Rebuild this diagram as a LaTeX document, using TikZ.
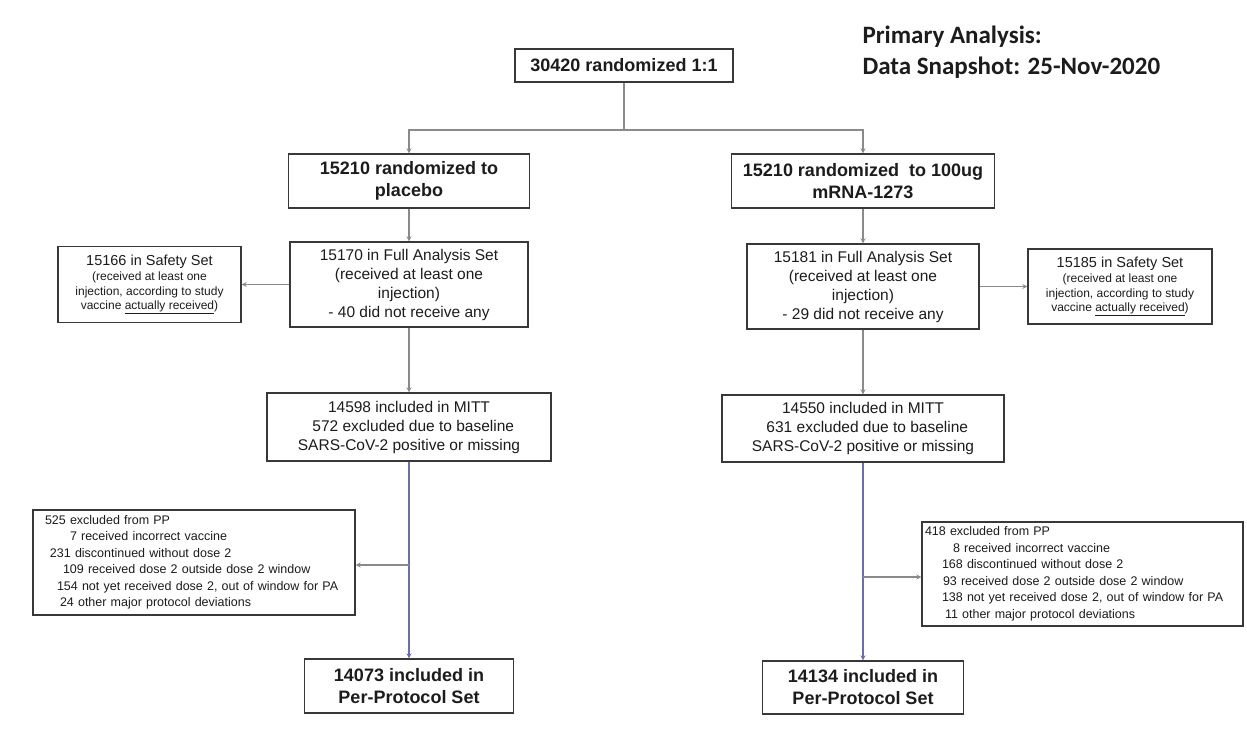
\documentclass[tikz,border=0pt]{standalone}
\usepackage{fontspec}
\setmainfont{Liberation Sans}
\newfontfamily\calfont{Carlito}
\usetikzlibrary{arrows}
\definecolor{boxline}{HTML}{383838}
\definecolor{wiregray}{HTML}{8A8A8A}
\definecolor{bluewire}{HTML}{6C6CB4}
\definecolor{ink}{HTML}{1C1C1C}

\begin{document}
\begin{tikzpicture}[x=1pt,y=-1pt,
    box/.style={draw=boxline,line width=1.3pt,inner sep=0pt,align=center,text=ink},
    bigbox/.style={box,font=\fontsize{18}{22}\selectfont\bfseries},
    midbox/.style={box,font=\fontsize{15.5}{19}\selectfont},
    smallbox/.style={box,font=\fontsize{12}{14.5}\selectfont},
    listbox/.style={box,align=left,font=\fontsize{12.5}{16.5}\selectfont},
    titletext/.style={anchor=west,text=ink,font=\calfont\bfseries\fontsize{25}{30}\selectfont},
    wire/.style={draw=wiregray,line width=1.2pt},
    arr/.style={wire,-stealth}]
      \fill[white] (0,0) rectangle (1247,739);
      \useasboundingbox (0,0) rectangle (1247,739);
      \node[titletext] (ttl) at (859,37) {Primary Analysis:};
      \node[titletext] (snap) at (859,68) {Data Snapshot: 25-Nov-2020};
      \node[bigbox,minimum width=218pt,minimum height=33pt] (top) at (624,65.5) {30420 randomized 1:1};
      \node[bigbox,minimum width=241pt,minimum height=54pt] (plac) at (409,181) {15210 randomized to\\placebo};
      \node[bigbox,minimum width=263pt,minimum height=54pt] (vacc) at (863,181) {15210 randomized \ to 100ug\\mRNA-1273};
      \node[midbox,minimum width=238pt,minimum height=85pt] (fasL) at (409,284.5)
        {15170 in Full Analysis Set\\(received at least one\\injection)\\- 40 did not receive any};
      \node[smallbox,minimum width=183pt,minimum height=76pt] (safL) at (149.5,284.5)
        {{\fontsize{14.5}{17}\selectfont 15166 in Safety Set}\\[1pt](received at least one\\injection, according to study\\vaccine \underline{actually received})};
      \node[midbox,minimum width=232pt,minimum height=85pt] (fasR) at (863,286.5)
        {15181 in Full Analysis Set\\(received at least one\\injection)\\- 29 did not receive any};
      \node[smallbox,minimum width=184pt,minimum height=75pt] (safR) at (1120,286.5)
        {{\fontsize{14.5}{17}\selectfont 15185 in Safety Set}\\[1pt](received at least one\\injection, according to study\\vaccine \underline{actually received})};
      \node[midbox,minimum width=284pt,minimum height=68pt] (mittL) at (409,427)
        {14598 included in MITT\\\ \ 572 excluded due to baseline\\SARS-CoV-2 positive or missing};
      \node[midbox,minimum width=282pt,minimum height=67pt] (mittR) at (863,428.5)
        {14550 included in MITT\\\ \ 631 excluded due to baseline\\SARS-CoV-2 positive or missing};
      \node[listbox,text width=306pt,inner xsep=8pt,minimum height=105pt] (exL) at (194,562.5)
        {\hspace*{4pt}525 excluded from PP\\
         \hspace*{29pt}7 received incorrect vaccine\\
         \hspace*{9pt}231 discontinued without dose 2\\
         \hspace*{22pt}109 received dose 2 outside dose 2 window\\
         \hspace*{16pt}154 not yet received dose 2, out of window for PA\\
         \hspace*{19pt}24 other major protocol deviations};
      \node[listbox,text width=315pt,inner xsep=3pt,minimum height=104pt] (exR) at (1082.5,574)
        {418 excluded from PP\\
         \hspace*{28pt}8 received incorrect vaccine\\
         \hspace*{17pt}168 discontinued without dose 2\\
         \hspace*{18pt}93 received dose 2 outside dose 2 window\\
         \hspace*{17pt}138 not yet received dose 2, out of window for PA\\
         \hspace*{20pt}11 other major protocol deviations};
      \node[bigbox,minimum width=209pt,minimum height=54pt] (ppL) at (409,686) {14073 included in\\Per-Protocol Set};
      \node[bigbox,minimum width=201pt,minimum height=53pt] (ppR) at (863,687.5) {14134 included in\\Per-Protocol Set};
      \coordinate (split) at (624,130);
      \coordinate (kL) at (409,565);
      \coordinate (kR) at (863,577);
      \draw[wire] (top) -- (split);
      \draw[arr] (split) -| (plac);
      \draw[arr] (split) -| (vacc);
      \draw[arr] (plac) -- (fasL);
      \draw[arr] (vacc) -- (fasR);
      \draw[arr] (fasL) -- (safL);
      \draw[arr] (fasR) -- (safR);
      \draw[arr] (fasL) -- (mittL);
      \draw[arr] (fasR) -- (mittR);
      \draw[arr,draw=bluewire] (mittL) -- (ppL);
      \draw[arr,draw=bluewire] (mittR) -- (ppR);
      \draw[arr] (kL) -- (kL -| exL.east);
      \draw[arr] (kR) -- (kR -| exR.west);
    \end{tikzpicture}
\end{document}
